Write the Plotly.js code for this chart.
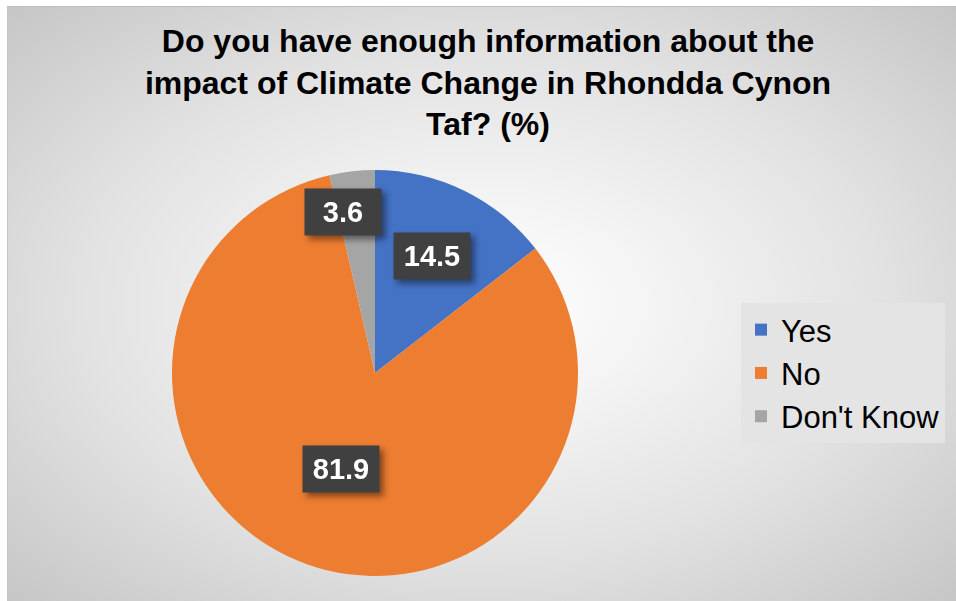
<!DOCTYPE html>
<html>
<head>
<meta charset="utf-8">
<script src="https://cdn.plot.ly/plotly-3.0.1.min.js"></script>
<style>
  html, body { margin:0; padding:0; background:#ffffff; }
  #bg { position:absolute; left:7px; top:6px; width:949px; height:595px;
        background: radial-gradient(ellipse farthest-corner at 50% 50%, #ffffff 0%, #f4f4f4 25%, #e2e2e2 60%, #c6c6c6 100%);
        border-top:1px solid #bdbdbd; border-left:1px solid #c4c4c4; box-sizing:border-box; }
  #chart { position:absolute; left:0; top:0; width:956px; height:601px; }
  #chart g.annotation-text-g { filter: drop-shadow(4px 4px 3px rgba(0,0,0,0.45)); }
</style>
</head>
<body>
<div id="bg"></div>
<div id="chart"></div>
<script>
const categories = ["Yes", "No", "Don't Know"];
const values = [14.5, 81.9, 3.6];
const labelTexts = ["14.5", "81.9", "3.6"];
const colors = ["#4472C4", "#ED7D31", "#A5A5A5"];

const W = 956, H = 601;
const cx = 375, cy = 373, R = 203;
const labelRadiusFrac = [0.64, 0.5, 0.8];
const labelXShift = [0, 0, -14];

const total = values.reduce((a, b) => a + b, 0);
const annotations = [];
let cum = 0;
values.forEach((v, i) => {
  const mid = (cum + v / 2) / total * 2 * Math.PI;
  cum += v;
  const px = cx + labelRadiusFrac[i] * R * Math.sin(mid) + labelXShift[i];
  const py = cy - labelRadiusFrac[i] * R * Math.cos(mid);
  annotations.push({
    xref: 'paper', yref: 'paper', x: px / W, y: 1 - py / H,
    showarrow: false, xanchor: 'center', yanchor: 'middle',
    width: 68, height: 38, borderpad: 4,
    text: '<b>' + labelTexts[i] + '</b>', bgcolor: '#404040',
    font: { family: 'Liberation Sans, Arial, sans-serif', size: 29, color: '#ffffff' }
  });
});

const trace = {
  type: 'pie',
  labels: categories,
  values: values,
  sort: false,
  direction: 'clockwise',
  rotation: 0,
  textinfo: 'none',
  hoverinfo: 'label+value',
  marker: { colors: colors, line: { width: 0 } },
  domain: { x: [(cx - R) / W, (cx + R) / W], y: [1 - (cy + R) / H, 1 - (cy - R) / H] }
};

const layout = {
  width: W, height: H,
  margin: { l: 0, r: 0, t: 0, b: 0 },
  paper_bgcolor: 'rgba(0,0,0,0)',
  plot_bgcolor: 'rgba(0,0,0,0)',
  title: {
    text: '<b>Do you have enough information about the<br>impact of Climate Change in Rhondda Cynon<br>Taf? (%)</b>',
    font: { family: 'Liberation Sans, Arial, sans-serif', size: 32, color: '#000000' },
    x: 488 / W, xanchor: 'center', xref: 'container',
    y: 1 - 52 / H, yanchor: 'middle', yref: 'container'
  },
  showlegend: true,
  legend: {
    x: 741 / W, xanchor: 'left', y: 1 - 373 / H, yanchor: 'middle',
    bgcolor: '#e4e4e4', borderwidth: 0,
    font: { family: 'Liberation Sans, Arial, sans-serif', size: 31, color: '#000000' }
  },
  annotations: annotations
};

Plotly.newPlot('chart', [trace], layout, { displayModeBar: false, staticPlot: true });
</script>
</body>
</html>
